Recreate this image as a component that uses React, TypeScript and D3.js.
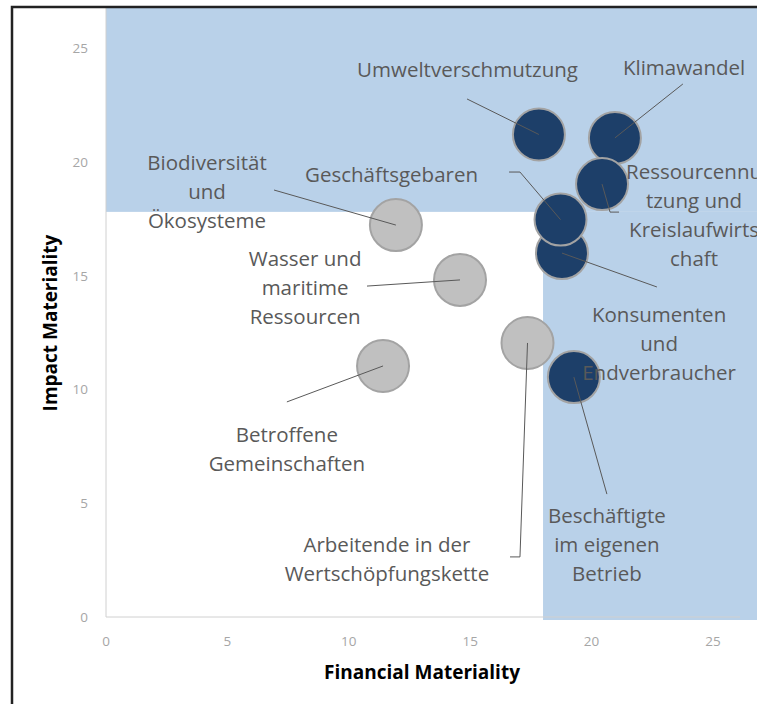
import React from "react";
import * as d3 from "d3";

// ---- data ----
const topics = [
  "Klimawandel",
  "Umweltverschmutzung",
  "Wasser und maritime Ressourcen",
  "Biodiversität und Ökosysteme",
  "Ressourcennutzung und Kreislaufwirtschaft",
  "Betroffene Gemeinschaften",
  "Arbeitende in der Wertschöpfungskette",
  "Beschäftigte im eigenen Betrieb",
  "Konsumenten und Endverbraucher",
  "Geschäftsgebaren",
];
const financial = [20.96, 17.83, 14.58, 11.94, 20.43, 11.41, 17.36, 19.27, 18.78, 18.72];
const impact = [21.05, 21.2, 14.81, 17.22, 19.02, 11.03, 12.04, 10.54, 15.99, 17.46];
const material = [true, true, false, false, true, false, false, true, true, true];

const labelLines = [
  ["Klimawandel"],
  ["Umweltverschmutzung"],
  ["Wasser und", "maritime", "Ressourcen"],
  ["Biodiversität", "und", "Ökosysteme"],
  ["Ressourcennu", "tzung und", "Kreislaufwirts", "chaft"],
  ["Betroffene", "Gemeinschaften"],
  ["Arbeitende in der", "Wertschöpfungskette"],
  ["Beschäftigte", "im eigenen", "Betrieb"],
  ["Konsumenten", "und", "Endverbraucher"],
  ["Geschäftsgebaren"],
];
// label anchor (data units): centre x, first baseline y
const labelAnchors: [number, number][] = [
  [23.81, 23.81],
  [14.89, 23.73],
  [8.2, 15.42],
  [4.16, 19.64],
  [24.22, 19.24],
  [7.45, 7.69],
  [11.57, 2.86],
  [20.63, 4.13],
  [22.78, 12.96],
  [11.76, 19.11],
];
// leader line points (data units) from label side to bubble
const leaderPoints: [number, number][][] = [
  [[23.76, 23.42]],
  [[14.87, 22.76]],
  [[10.75, 14.54]],
  [[6.92, 18.76]],
  [[21.13, 17.79], [20.76, 17.79]],
  [[7.45, 9.45]],
  [[16.64, 2.64], [17.05, 2.64]],
  [[20.63, 5.4]],
  [[22.69, 14.5]],
  [[16.6, 19.55], [17.05, 19.55]],
];
const drawOrder = [2, 3, 5, 6, 0, 1, 4, 8, 9, 7];

const xTicks = [0, 5, 10, 15, 20, 25];
const yTicks = [0, 5, 10, 15, 20, 25];
const thresholdX = 18;
const thresholdY = 17.8;

const W = 757;
const H = 704;

export default function App() {
  const x = d3.scaleLinear().domain([0, 25]).range([106, 713]);
  const y = d3.scaleLinear().domain([0, 25]).range([617, 48]);
  const line = d3.line<[number, number]>().x((d) => x(d[0])).y((d) => y(d[1]));
  const plotTop = 8;
  const plotRight = 740;
  const labelFont = "'Open Sans', sans-serif";

  return (
    <svg
      width={W}
      height={H}
      style={{ position: "absolute", left: 0, top: 0, background: "#fff" }}
      fontFamily={labelFont}
    >
      <rect x={0} y={0} width={W} height={H} fill="#fff" />
      {/* material zones */}
      <rect x={x(0)} y={plotTop} width={W - x(0)} height={y(thresholdY) - plotTop} fill="#b9d1e9" />
      <rect x={x(thresholdX)} y={y(thresholdY)} width={W - x(thresholdX)} height={y(0) + 3 - y(thresholdY)} fill="#b9d1e9" />
      {/* axes */}
      <line x1={x(0)} x2={plotRight} y1={y(0)} y2={y(0)} stroke="#d0d0d0" strokeWidth={1} />
      <line x1={x(0)} x2={x(0)} y1={plotTop} y2={y(0)} stroke="#d0d0d0" strokeWidth={1} />
      {xTicks.map((t) => (
        <text key={"x" + t} x={x(t)} y={y(0) + 29} textAnchor="middle" fontSize={13.5} fill="#a6a6a6">
          {t}
        </text>
      ))}
      {yTicks.map((t) => (
        <text key={"y" + t} x={88} y={y(t) + 5} textAnchor="end" fontSize={13.5} fill="#a6a6a6">
          {t}
        </text>
      ))}
      <text x={422} y={679} textAnchor="middle" fontSize={19} fontWeight="bold" fill="#000">
        Financial Materiality
      </text>
      <text
        transform={`translate(57,323) rotate(-90)`}
        textAnchor="middle"
        fontSize={19}
        fontWeight="bold"
        fill="#000"
      >
        Impact Materiality
      </text>
      {/* bubbles */}
      {drawOrder.map((i) => (
        <circle
          key={"c" + i}
          cx={x(financial[i])}
          cy={y(impact[i])}
          r={26}
          fill={material[i] ? "#1d3f69" : "#c0c0c0"}
          stroke="#a3a3a3"
          strokeWidth={2}
        />
      ))}
      {/* leader lines */}
      {topics.map((t, i) => (
        <path
          key={"l" + i}
          d={line([...leaderPoints[i], [financial[i], impact[i]]]) || ""}
          fill="none"
          stroke="#595959"
          strokeWidth={1}
        />
      ))}
      {/* labels */}
      {topics.map((t, i) => (
        <text key={"t" + i} textAnchor="middle" fontSize={20.5} fill="#595959">
          {labelLines[i].map((ln, j) => (
            <tspan key={j} x={x(labelAnchors[i][0])} y={y(labelAnchors[i][1]) + j * 29}>
              {ln}
            </tspan>
          ))}
        </text>
      ))}
      {/* outer frame */}
      <rect x={12} y={7} width={W + 20} height={H + 20} fill="none" stroke="#222" strokeWidth={2.5} />
    </svg>
  );
}
